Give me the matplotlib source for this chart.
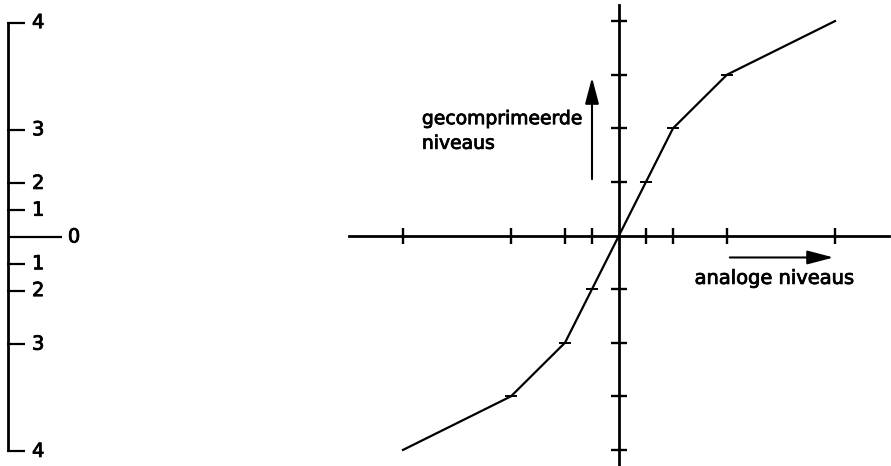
import numpy as np
import matplotlib
matplotlib.use("Agg")
import matplotlib.pyplot as plt
import matplotlib.patheffects as pe

# analog input levels and compressed output levels
analog_levels = [-8, -4, -2, -1, 0, 1, 2, 4, 8]
compressed_levels = [-4, -3, -2, -1, 0, 1, 2, 3, 4]
scale_labels = ["4", "3", "2", "1", "0", "1", "2", "3", "4"]

x_ticks = [-8, -4, -2, -1, 1, 2, 4, 8]
y_ticks = [-4, -3, -2, -1, 1, 2, 3, 4]

plt.rcParams["font.family"] = "DejaVu Sans"

W, H, DPI = 891, 466, 100
fig = plt.figure(figsize=(W / DPI, H / DPI), dpi=DPI)
heavy = [pe.withStroke(linewidth=0.6, foreground="black")]

# ---- left: scale of analog levels labelled with compressed level numbers
axl = fig.add_axes([0, 0, 120 / W, 1])
axl.set_xlim(0, 120)
axl.set_ylim(-(H - 237) / 26.8, 237 / 26.8)
axl.axis("off")
axl.vlines(8, min(analog_levels), max(analog_levels), color="black", lw=2.0)
for lvl, lab in zip(analog_levels, scale_labels):
    if lvl == 0:
        axl.hlines(lvl, 8, 62, color="black", lw=1.6)
        axl.text(74, lvl, lab, ha="center", va="center", fontsize=14,
                 path_effects=heavy)
    else:
        axl.hlines(lvl, 7, 25, color="black", lw=1.6)
        axl.text(32, lvl, lab, ha="left", va="center", fontsize=14,
                 path_effects=heavy)

# ---- right: compression characteristic
ax = fig.add_axes([349 / W, 0, 540 / W, 461 / H])
ax.set_xlim(-10, 10)
ax.set_ylim(-4.3, 4.3)
for side in ["top", "right"]:
    ax.spines[side].set_visible(False)
ax.spines["left"].set_position(("data", 0))
ax.spines["bottom"].set_position(("data", 0))
for side in ["left", "bottom"]:
    ax.spines[side].set_linewidth(2.0)
ax.set_xticks(x_ticks)
ax.set_yticks(y_ticks)
ax.tick_params(direction="inout", length=11, width=1.7,
               labelbottom=False, labelleft=False)

ax.plot(analog_levels, compressed_levels, color="black", lw=1.6)

# small marks across the curve at the break points
mark_x = [v for v in analog_levels[1:-1] if v != 0]
mark_y = [v for v in compressed_levels[1:-1] if v != 0]
ax.plot(mark_x, mark_y, ls="none", marker="_", ms=9, mew=1.4, color="black")

# annotations
arrow = dict(arrowstyle="-|>,head_length=1.6,head_width=0.42",
             color="black", lw=1.5)
ax.annotate("", xy=(-1, 3.0), xytext=(-1, 1.0), arrowprops=arrow)
ax.text(-7.3, 2.18, "gecomprimeerde", ha="left", va="center", fontsize=13.5,
        path_effects=heavy)
ax.text(-7.3, 1.72, "niveaus", ha="left", va="center", fontsize=13.5,
        path_effects=heavy)

ax.annotate("", xy=(8.05, -0.41), xytext=(4.0, -0.41), arrowprops=arrow)
ax.text(2.8, -0.8, "analoge niveaus", ha="left", va="center", fontsize=14,
        path_effects=heavy)

fig.savefig("out.png", dpi=DPI)
